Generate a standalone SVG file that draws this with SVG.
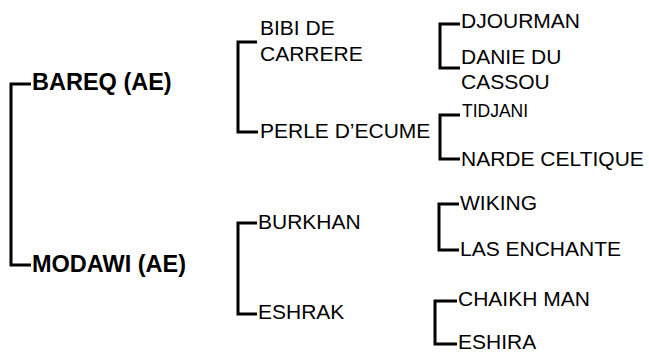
<svg xmlns="http://www.w3.org/2000/svg" width="649" height="352" viewBox="0 0 649 352">
<style>
.c{fill:none;stroke:#000;stroke-width:3;stroke-linejoin:miter;stroke-linecap:butt}
text{font-family:"Liberation Sans",Arial,sans-serif;fill:#000;font-size:21px}
.b{font-weight:bold;font-size:23.5px}
.s{font-size:17.5px}
</style>
<rect width="649" height="352" fill="#fff"/>
<g id="connectors">
<path class="c" d="M31,84H11V265H31"/>
<path class="c" d="M257,42H238V132H258"/>
<path class="c" d="M257,223H238V314H257"/>
<path class="c" d="M460,24H440V68H460"/>
<path class="c" d="M460,115H440V159H460"/>
<path class="c" d="M459,204H439V250H459"/>
<path class="c" d="M457,301H435V344H457"/>
</g>
<g id="bareq"><text class="b" x="32" y="90">BAREQ (AE)</text></g>
<g id="modawi"><text class="b" x="32" y="272">MODAWI (AE)</text></g>
<g id="bibi"><text x="260" y="35">BIBI DE</text><text x="260" y="61">CARRERE</text></g>
<g id="perle"><text x="260" y="138">PERLE D’ECUME</text></g>
<g id="burkhan"><text x="258" y="229">BURKHAN</text></g>
<g id="eshrak"><text x="258" y="319">ESHRAK</text></g>
<g id="djourman"><text x="461" y="28">DJOURMAN</text></g>
<g id="danie"><text x="461" y="64">DANIE DU</text><text x="461" y="89">CASSOU</text></g>
<g id="tidjani"><text class="s" x="462" y="117">TIDJANI</text></g>
<g id="narde"><text x="461" y="166">NARDE CELTIQUE</text></g>
<g id="wiking"><text x="460" y="210">WIKING</text></g>
<g id="las"><text x="460" y="256">LAS ENCHANTE</text></g>
<g id="chaikh"><text x="458" y="306">CHAIKH MAN</text></g>
<g id="eshira"><text x="458" y="349">ESHIRA</text></g>
</svg>
